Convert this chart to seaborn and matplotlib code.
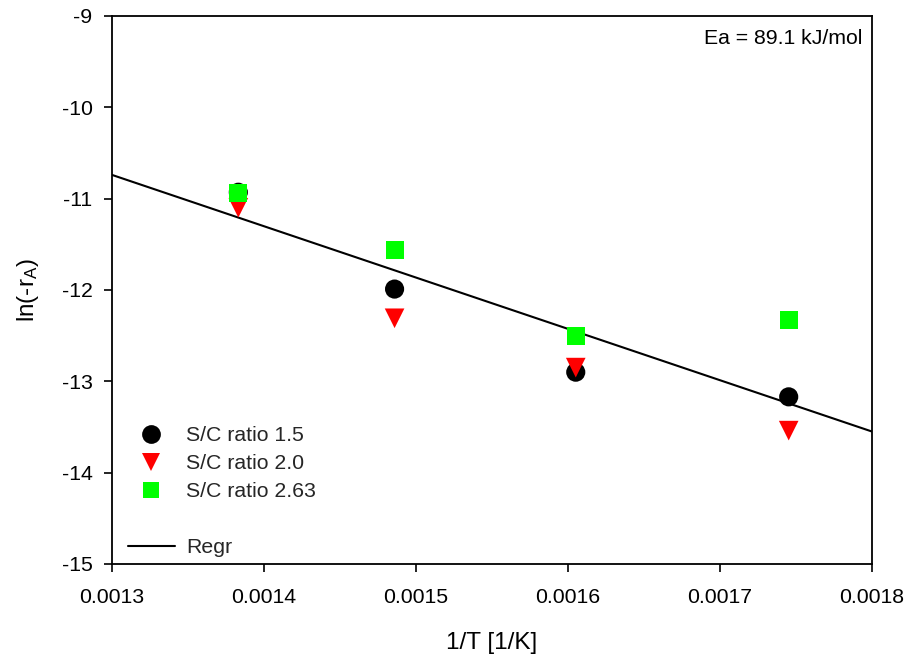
import matplotlib
matplotlib.use("Agg")
import matplotlib.pyplot as plt
import seaborn as sns
import pandas as pd
from matplotlib.lines import Line2D

sns.set_theme(style="ticks")
plt.rcParams['font.family'] = ['Liberation Sans', 'DejaVu Sans']
plt.rcParams['mathtext.fontset'] = 'custom'
plt.rcParams['mathtext.rm'] = 'Liberation Sans'
plt.rcParams['mathtext.it'] = 'Liberation Sans'

inv_T = [0.0013831, 0.0014859, 0.0016051, 0.0017452]
sc_15 = [-10.93, -11.99, -12.90, -13.17]
sc_20 = [-11.10, -12.31, -12.85, -13.54]
sc_263 = [-10.94, -11.56, -12.50, -12.33]
regr_x = [0.0013, 0.0018]
regr_y = [-10.74, -13.55]
labels = ["S/C ratio 1.5", "S/C ratio 2.0", "S/C ratio 2.63", "Regr"]
x_ticks = [0.0013, 0.0014, 0.0015, 0.0016, 0.0017, 0.0018]
y_ticks = [-15, -14, -13, -12, -11, -10, -9]

fig = plt.figure(figsize=(9.07, 6.58), dpi=100)
ax = fig.add_axes([0.1235, 0.1429, 0.9614 - 0.1235, 0.9757 - 0.1429])

sns.lineplot(x=regr_x, y=regr_y, ax=ax, color='black', linewidth=1.5)
sns.scatterplot(x=inv_T, y=sc_15, ax=ax, marker='o', color='black', s=190, edgecolor='none', zorder=3)
sns.scatterplot(x=inv_T, y=sc_20, ax=ax, marker='v', color='#ff0000', s=200, edgecolor='none', zorder=3)
sns.scatterplot(x=inv_T, y=sc_263, ax=ax, marker='s', color='#00ff00', s=170, edgecolor='none', zorder=3)

ax.set_xlim(0.0013, 0.0018)
ax.set_ylim(-15, -9)
ax.set_xticks(x_ticks)
ax.set_xticklabels([f"{v:.4f}" for v in x_ticks])
ax.set_yticks(y_ticks)
ax.set_yticklabels([str(v) for v in y_ticks])
ax.tick_params(direction='out', length=6, width=1.2, labelsize=15.3, color='black', labelcolor='black')
ax.tick_params(axis='x', pad=11)
ax.tick_params(axis='y', pad=8)
for sp in ax.spines.values():
    sp.set_linewidth(1.3)
    sp.set_color('black')
    sp.set_visible(True)

ax.set_xlabel("1/T [1/K]", fontsize=17.5, labelpad=18, color='black')
ax.set_ylabel(r"ln(-r$_\mathregular{A}$)", fontsize=17.5, labelpad=15, color='black')

ax.text(0.988, 0.977, "Ea = 89.1 kJ/mol", transform=ax.transAxes, ha='right', va='top', fontsize=15.3, color='black')

handles = [
    Line2D([], [], marker='o', color='black', linestyle='none', markersize=13.5, markeredgewidth=0),
    Line2D([], [], marker='v', color='#ff0000', linestyle='none', markersize=13.5, markeredgewidth=0),
    Line2D([], [], marker='s', color='#00ff00', linestyle='none', markersize=12, markeredgewidth=0),
    Line2D([], [], linestyle='none'),
    Line2D([], [], color='black', linewidth=1.5),
]
leg = ax.legend(handles, [labels[0], labels[1], labels[2], "", labels[3]],
                loc='lower left', bbox_to_anchor=(0.011, -0.001), frameon=False, fontsize=15.3,
                handlelength=2.2, handletextpad=0.55, labelspacing=0.42, borderaxespad=0.0,
                borderpad=0.35)

fig.savefig("out.png", dpi=100)
